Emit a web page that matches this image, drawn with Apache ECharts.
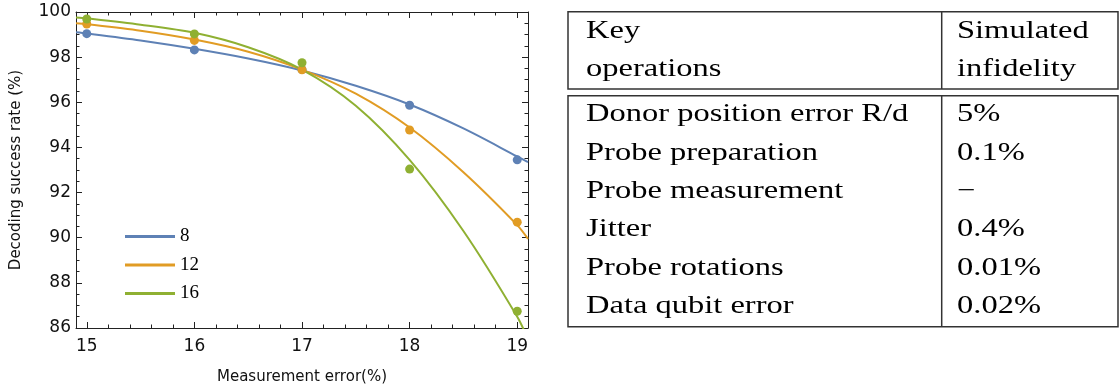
<!DOCTYPE html>
<html>
<head>
<meta charset="utf-8">
<script src="https://cdn.jsdelivr.net/npm/echarts@6/dist/echarts.min.js"></script>
<style>
  html, body { margin: 0; padding: 0; background: #fff; }
  #main { width: 1120px; height: 387px; }
</style>
</head>
<body>
<div id="main"></div>
<script>
const chart = echarts.init(document.getElementById('main'))

// measured points
const measErr = [15, 16, 17, 18, 19]
const rate8 = [99.04, 98.32, 97.45, 95.87, 93.45]
const rate12 = [99.47, 98.74, 97.44, 94.77, 90.69]
const rate16 = [99.69, 99.03, 97.75, 93.04, 86.74]

// fitted curves
const fitX = [14.9, 15, 15.5, 16, 16.5, 17, 17.5, 18, 18.5, 19, 19.1]
const fit8 = [99.10, 99.05, 98.74, 98.37, 97.94, 97.41, 96.73, 95.90, 94.84, 93.60, 93.35]
const fit12 = [99.50, 99.46, 99.17, 98.78, 98.24, 97.45, 96.38, 94.88, 92.90, 90.56, 89.95]
const fit16 = [99.76, 99.72, 99.44, 99.08, 98.44, 97.45, 95.85, 93.45, 90.30, 86.50, 85.50]

const seriesNames = ['8', '12', '16']
const colors = ['#5E81B5', '#E19C24', '#8FB032']

const xMajor = [15, 16, 17, 18, 19]
const xMinor = [15.2, 15.4, 15.6, 15.8, 16.2, 16.4, 16.6, 16.8, 17.2, 17.4, 17.6, 17.8, 18.2, 18.4, 18.6, 18.8]

// table text
const headLeft = ['Key', 'operations']
const headRight = ['Simulated', 'infidelity']
const opNames = ['Donor position error R/d', 'Probe preparation', 'Probe measurement', 'Jitter', 'Probe rotations', 'Data qubit error']
const infidelity = ['5%', '0.1%', '\u2212', '0.4%', '0.01%', '0.02%']

const zip = (xs, ys) => xs.map((x, i) => [x, ys[i]])

const frameColor = '#222'
const sans = 'DejaVu Sans'
const serif = 'Liberation Serif'

let xAxisBase = {
  type: 'value',
  min: 14.9,
  max: 19.1,
  splitLine: { show: false },
  axisLine: { lineStyle: { color: frameColor, width: 1 } }
}

let xAxes = [
  Object.assign({}, xAxisBase, {
    position: 'bottom',
    name: 'Measurement error(%)',
    nameLocation: 'middle',
    nameGap: 42,
    nameTextStyle: { fontFamily: sans, fontSize: 15, color: '#111' },
    axisTick: { inside: true, length: 6, customValues: xMajor, lineStyle: { color: frameColor } },
    axisLabel: { customValues: xMajor, fontFamily: sans, fontSize: 17, color: '#111', margin: 10 }
  }),
  Object.assign({}, xAxisBase, {
    position: 'bottom',
    axisLine: { show: false },
    axisTick: { inside: true, length: 3.5, customValues: xMinor, lineStyle: { color: frameColor } },
    axisLabel: { show: false }
  }),
  Object.assign({}, xAxisBase, {
    position: 'top',
    axisTick: { inside: true, length: 6, customValues: xMajor, lineStyle: { color: frameColor } },
    axisLabel: { show: false }
  }),
  Object.assign({}, xAxisBase, {
    position: 'top',
    axisLine: { show: false },
    axisTick: { inside: true, length: 3.5, customValues: xMinor, lineStyle: { color: frameColor } },
    axisLabel: { show: false }
  })
]

let yAxisBase = {
  type: 'value',
  min: 86,
  max: 100,
  interval: 2,
  splitLine: { show: false },
  axisLine: { show: true, lineStyle: { color: frameColor, width: 1 } },
  axisTick: { show: true, inside: true, length: 6, lineStyle: { color: frameColor } },
  minorTick: { show: true, splitNumber: 4, length: 3.5, lineStyle: { color: frameColor } },
  minorSplitLine: { show: false }
}

let yAxes = [
  Object.assign({}, yAxisBase, {
    position: 'left',
    name: 'Decoding success rate (%)',
    nameLocation: 'middle',
    nameGap: 52,
    nameTextStyle: { fontFamily: sans, fontSize: 15, color: '#111' },
    axisLabel: { fontFamily: sans, fontSize: 17, color: '#111', margin: 5 }
  }),
  Object.assign({}, yAxisBase, {
    position: 'right',
    axisLabel: { show: false }
  })
]

let fits = [fit8, fit12, fit16]
let rates = [rate8, rate12, rate16]

let series = []
seriesNames.forEach((name, i) => {
  series.push({
    name: name,
    type: 'line',
    smooth: 0.3,
    showSymbol: false,
    symbol: 'none',
    lineStyle: { width: 2, color: colors[i] },
    itemStyle: { color: colors[i] },
    data: zip(fitX, fits[i]),
    z: 2
  })
})
seriesNames.forEach((name, i) => {
  series.push({
    name: name + ' data',
    type: 'scatter',
    symbolSize: 9,
    itemStyle: { color: colors[i], opacity: 1 },
    data: zip(measErr, rates[i]),
    z: 3
  })
})

// table drawn with graphic elements
const tblLeft = 568, tblRight = 1118, colDiv = 941.7
const headTop = 11.7, headBottom = 89, bodyTop = 95.7, bodyBottom = 326.7
const textScale = 1.3
const cellText = (txt, x, y) => ({
  type: 'text',
  x: x,
  y: y,
  scaleX: textScale,
  style: {
    text: txt,
    x: 0,
    y: 0,
    fill: '#000',
    font: '25px "Liberation Serif"',
    verticalAlign: 'middle',
    align: 'left'
  }
})
const border = { fill: 'none', stroke: '#333', lineWidth: 1.5 }

let graphic = [
  { type: 'rect', shape: { x: tblLeft, y: headTop, width: tblRight - tblLeft, height: headBottom - headTop }, style: border },
  { type: 'rect', shape: { x: tblLeft, y: bodyTop, width: tblRight - tblLeft, height: bodyBottom - bodyTop }, style: border },
  { type: 'line', shape: { x1: colDiv, y1: headTop, x2: colDiv, y2: headBottom }, style: { stroke: '#333', lineWidth: 1.5 } },
  { type: 'line', shape: { x1: colDiv, y1: bodyTop, x2: colDiv, y2: bodyBottom }, style: { stroke: '#333', lineWidth: 1.5 } }
]
headLeft.forEach((t, i) => graphic.push(cellText(t, 586, 31.3 + i * 38)))
headRight.forEach((t, i) => graphic.push(cellText(t, 957, 31.3 + i * 38)))
opNames.forEach((t, i) => graphic.push(cellText(t, 586, 114.7 + i * 38.4)))
infidelity.forEach((t, i) => graphic.push(cellText(t, 957, 114.7 + i * 38.4)))

let option = {
  backgroundColor: '#fff',
  animation: false,
  grid: { left: 76, top: 12, right: 592, bottom: 59, containLabel: false, outerBoundsMode: 'none' },
  legend: {
    data: seriesNames,
    orient: 'vertical',
    left: 120,
    top: 222,
    itemWidth: 50,
    itemHeight: 14,
    itemGap: 9.5,
    icon: 'path://M0,5.5 L50,5.5 L50,8.5 L0,8.5 Z',
    textStyle: { fontFamily: serif, fontSize: 19, color: '#000', padding: [0, 0, 0, 0] }
  },
  xAxis: xAxes,
  yAxis: yAxes,
  series: series,
  graphic: graphic
}

chart.setOption(option)
</script>
</body>
</html>
